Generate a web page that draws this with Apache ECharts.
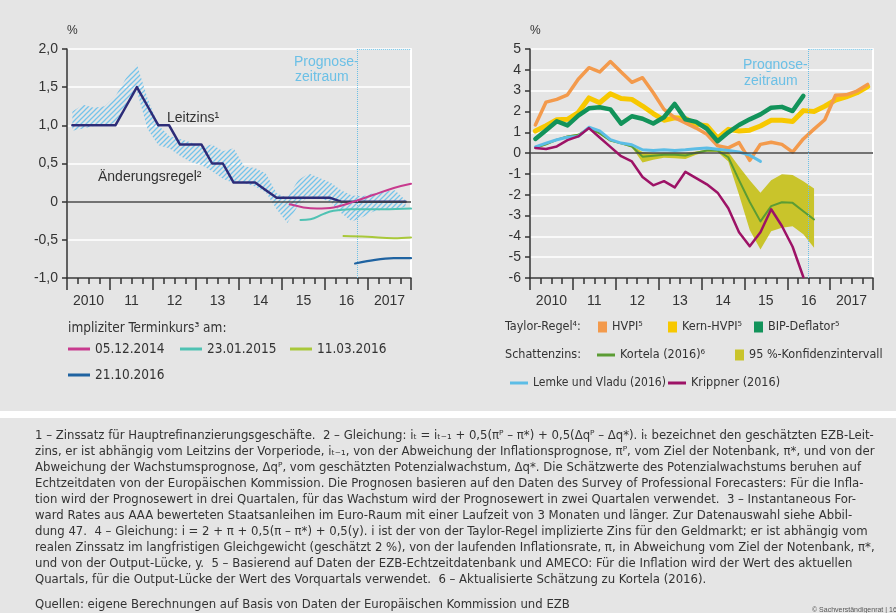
<!DOCTYPE html>
<html><head><meta charset="utf-8">
<script src="https://cdn.jsdelivr.net/npm/echarts/dist/echarts.min.js"></script>
<style>html,body{margin:0;padding:0;background:#fff}#c{width:896px;height:613px}</style>
</head><body><div id="c"></div><script>
// ---------- data ----------
const years = [2010, 2011, 2012, 2013, 2014, 2015, 2016, 2017];
const yearLabels = ['2010', '11', '12', '13', '14', '15', '16', '2017'];
const leftTicks = [-1, -0.5, 0, 0.5, 1, 1.5, 2];
const rightTicks = [-6, -5, -4, -3, -2, -1, 0, 1, 2, 3, 4, 5];

// left panel (quarterly, 2010Q1 ...)
const leitzins = [1,1,1,1, 1,1.25,1.5,1.25, 1,1,0.75,0.75, 0.75,0.5,0.5,0.25, 0.25,0.25,0.15,0.05, 0.05,0.05,0.05,0.05, 0.05,0,0,0, 0,0,0,0];
const regelUpper = [1.18,1.27,1.23,1.25, 1.38,1.62,1.8,1.35, 1.0,0.86,0.82,0.78, 0.72,0.75,0.66,0.7, 0.46,0.44,0.37,0.11, 0.05,0.28,0.37,0.31, 0.25,0.15,0.08,0.07, 0.11,0.13,0.15,0.02];
const regelLower = [0.93,0.96,0.99,1.0, 1.03,1.25,1.45,0.95, 0.74,0.7,0.6,0.52, 0.48,0.4,0.3,0.24, 0.24,0.2,0.12,-0.1, -0.28,-0.05,0.07,0.04, 0.0,-0.15,-0.26,-0.2, -0.13,-0.1,-0.09,-0.07];
// implied forward curves [date (decimal year), value]
const fwd20141205 = [[2015.18,-0.035],[2015.5,-0.075],[2015.81,-0.09],[2016.2,-0.075],[2016.67,0],[2017.13,0.09],[2017.6,0.18],[2018,0.235]];
const fwd20150123 = [[2015.43,-0.24],[2015.66,-0.23],[2015.97,-0.16],[2016.2,-0.12],[2016.59,-0.1],[2017.36,-0.1],[2018,-0.09]];
const fwd20160311 = [[2016.43,-0.45],[2016.98,-0.46],[2017.6,-0.48],[2018,-0.47]];
const fwd20161021 = [[2016.7,-0.81],[2016.98,-0.78],[2017.6,-0.74],[2018,-0.74]];
const prognoseLeft = 2016.74;

// right panel (quarterly, 2010Q1 ...)
const hvpi = [1.35,2.45,2.58,2.8, 3.55,4.1,3.9,4.4, 3.9,3.4,3.62,2.9, 2.1,1.7,1.45,1.2, 0.9,0.35,0.25,0.5, -0.35,0.42,0.52,0.42, 0.05,0.68,1.15,1.6, 2.78,2.8,2.98,3.3];
const kernHvpi = [1.06,1.32,1.6,1.62, 1.95,2.65,2.42,2.85, 2.62,2.58,2.26,1.9, 1.58,1.7,1.66,1.38, 1.32,0.72,1.14,1.06, 1.1,1.3,1.58,1.58, 1.52,2.04,2.0,2.25, 2.55,2.7,2.9,3.2];
const bipDeflator = [0.68,1.1,1.53,1.33, 1.8,2.15,2.2,2.1, 1.42,1.77,1.65,1.42, 1.72,2.36,1.62,1.5, 1.17,0.57,1.0,1.35, 1.62,1.86,2.18,2.22, 2.02,2.75];
const kortela = [0.25,0.42,0.64,0.8, 0.88,1.2,0.95,0.6, 0.47,0.32,-0.17,-0.13, -0.08,-0.08,-0.12,0.02, 0.12,0.12,-0.2,-1.3, -2.35,-3.28,-2.55,-2.36, -2.39,-2.79,-3.19];
const kortelaUpper = [0.29,0.46,0.68,0.84, 0.92,1.24,0.99,0.64, 0.51,0.36,0.05,0.0, 0.02,0.02,0.0,0.08, 0.16,0.2,0.05,-0.65, -1.3,-1.9,-1.3,-1.02, -1.05,-1.35,-1.7];
const kortelaLower = [0.21,0.38,0.6,0.76, 0.84,1.16,0.91,0.56, 0.43,0.28,-0.45,-0.32, -0.22,-0.25,-0.28,-0.08, 0.06,0.05,-0.4,-2.0, -3.7,-4.63,-3.75,-3.59, -3.51,-3.9,-4.55];
const lemkeVladu = [0.3,0.48,0.64,0.76, 0.8,1.24,1.07,0.65, 0.48,0.4,0.16,0.13, 0.16,0.13,0.16,0.21, 0.24,0.19,0.12,0.05, -0.1,-0.4];
const krippner = [0.25,0.2,0.32,0.62, 0.8,1.2,0.75,0.3, -0.15,-0.4,-1.15,-1.55, -1.35,-1.65,-0.9,-1.2, -1.5,-1.9,-2.65,-3.8, -4.47,-3.8,-2.7,-3.5, -4.5,-5.95];
const prognoseRight = 2016.5;

// ---------- helpers ----------
const quarterX = [];
years.forEach(y => { for (let q = 1; q <= 4; q++) quarterX.push(y + (q - 0.5) / 4); });
const pairs = arr => arr.map((v, i) => [quarterX[i], v]);

const F = '"Liberation Sans", Arial, sans-serif';
const FN = '"Liberation Sans Narrow", "Arial Narrow", "DejaVu Sans Condensed", sans-serif';
const TXT = '#333';

function hatch() {
  const c = document.createElement('canvas'); c.width = 5; c.height = 5;
  const g = c.getContext('2d');
  g.strokeStyle = '#74c3ea'; g.lineWidth = 1.25;
  g.beginPath();
  g.moveTo(0, 5); g.lineTo(5, 0);
  g.moveTo(-1, 1); g.lineTo(1, -1);
  g.moveTo(4, 6); g.lineTo(6, 4);
  g.stroke();
  return c;
}

function xAxes(gi) {
  return [
    { gridIndex: gi, type: 'value', min: 2010, max: 2018, interval: 1,
      axisLine: { show: true, onZero: false, lineStyle: { color: '#333', width: 1.5 } },
      axisTick: { show: true, length: 12, lineStyle: { color: '#333', width: 1.5 } },
      minorTick: { show: true, splitNumber: 4, length: 6, lineStyle: { color: '#333', width: 1.5 } },
      axisLabel: { show: false }, splitLine: { show: false }, minorSplitLine: { show: false } },
    { gridIndex: gi, type: 'category', data: yearLabels, boundaryGap: true, position: 'bottom',
      axisLine: { show: false, onZero: false }, axisTick: { show: false }, splitLine: { show: false },
      axisLabel: { show: true, interval: 0, margin: 16, color: TXT, fontFamily: F, fontSize: 14 } }
  ];
}
function yAxes(gi, ticks, fmt) {
  const min = ticks[0], max = ticks[ticks.length - 1], interval = ticks[1] - ticks[0];
  return [
    { gridIndex: gi, type: 'value', min, max, interval,
      name: '%', nameLocation: 'end', nameGap: 12,
      nameTextStyle: { color: TXT, fontFamily: F, fontSize: 12, align: 'left', padding: [0, 0, 0, 0] },
      axisLine: { show: true, onZero: false, lineStyle: { color: '#333', width: 1.5 } },
      axisTick: { show: true, length: 5, lineStyle: { color: '#333', width: 1.5 } },
      axisLabel: { margin: 9, color: TXT, fontFamily: F, fontSize: 14, formatter: fmt },
      splitLine: { show: true, lineStyle: { color: '#ffffff', width: 1.5 } } },
    { gridIndex: gi, type: 'value', min, max, interval, position: 'right',
      axisLine: { show: true, onZero: false, lineStyle: { color: '#ffffff', width: 2 } },
      axisTick: { show: false }, axisLabel: { show: false }, splitLine: { show: false } }
  ];
}
function line(name, data, color, width, xi, yi, extra) {
  return Object.assign({ type: 'line', name, data, xAxisIndex: xi, yAxisIndex: yi,
    symbol: 'none', showSymbol: false, silent: true, z: 3,
    lineStyle: { color, width, cap: 'round', join: 'round' }, itemStyle: { color } }, extra || {});
}
function band(name, lower, upper, fill, legendColor, xi, yi, z) {
  const xs = quarterX.slice(0, lower.length);
  return { type: 'custom', name, xAxisIndex: xi, yAxisIndex: yi, z, silent: true, clip: true,
    itemStyle: { color: legendColor },
    data: xs.map((x, i) => [x, lower[i], upper[i]]),
    encode: { x: 0, y: [1, 2] },
    renderItem(params, api) {
      if (params.dataIndex !== 0) return null;
      const pts = [];
      for (let i = 0; i < xs.length; i++) pts.push(api.coord([xs[i], upper[i]]));
      for (let i = xs.length - 1; i >= 0; i--) pts.push(api.coord([xs[i], lower[i]]));
      return { type: 'polygon', shape: { points: pts }, style: { fill } };
    } };
}
function lg(name, left, top, w, h, fs) {
  return { data: [name], left, top, itemWidth: w, itemHeight: h, icon: 'rect', itemGap: 0, padding: 0,
    selectedMode: false, textStyle: { fontFamily: FN, fontSize: fs, color: TXT, lineHeight: 16 } };
}
const zeroLine = { silent: true, symbol: 'none', animation: false, label: { show: false },
  lineStyle: { color: '#444', width: 1.5, type: 'solid' }, data: [{ yAxis: 0 }] };
function progLine(x, top, bottom) {
  return { silent: true, symbol: 'none', animation: false, label: { show: false },
    lineStyle: { color: '#6cc0e6', width: 1, type: 'dotted' },
    data: [[{ coord: [x, top] }, { coord: [x, bottom] }], [{ coord: [x, top] }, { coord: [2018, top] }]] };
}

const C = { hvpi: '#f39a4c', kern: '#f7c800', bip: '#12935a', kortela: '#5b9c34', ki: '#c9c42b',
  lemke: '#5cbde6', krippner: '#9d1266', leit: '#2d2c78',
  f1: '#c83a8e', f2: '#4fc2b3', f3: '#a9c83a', f4: '#1f63a1' };

const footLines = [
  '1 – Zinssatz für Hauptrefinanzierungsgeschäfte.  2 – Gleichung: iₜ = iₜ₋₁ + 0,5(πᴾ – π*) + 0,5(Δqᴾ – Δq*). iₜ bezeichnet den geschätzten EZB-Leit-',
  'zins, er ist abhängig vom Leitzins der Vorperiode, iₜ₋₁, von der Abweichung der Inflationsprognose, πᴾ, vom Ziel der Notenbank, π*, und von der',
  'Abweichung der Wachstumsprognose, Δqᴾ, vom geschätzten Potenzialwachstum, Δq*. Die Schätzwerte des Potenzialwachstums beruhen auf',
  'Echtzeitdaten von der Europäischen Kommission. Die Prognosen basieren auf den Daten des Survey of Professional Forecasters: Für die Infla-',
  'tion wird der Prognosewert in drei Quartalen, für das Wachstum wird der Prognosewert in zwei Quartalen verwendet.  3 – Instantaneous For-',
  'ward Rates aus AAA bewerteten Staatsanleihen im Euro-Raum mit einer Laufzeit von 3 Monaten und länger. Zur Datenauswahl siehe Abbil-',
  'dung 47.  4 – Gleichung: i = 2 + π + 0,5(π – π*) + 0,5(y). i ist der von der Taylor-Regel implizierte Zins für den Geldmarkt; er ist abhängig vom',
  'realen Zinssatz im langfristigen Gleichgewicht (geschätzt 2 %), von der laufenden Inflationsrate, π, in Abweichung vom Ziel der Notenbank, π*,',
  'und von der Output-Lücke, y.  5 – Basierend auf Daten der EZB-Echtzeitdatenbank und AMECO: Für die Inflation wird der Wert des aktuellen',
  'Quartals, für die Output-Lücke der Wert des Vorquartals verwendet.  6 – Aktualisierte Schätzung zu Kortela (2016).'
];
const sourceLine = 'Quellen: eigene Berechnungen auf Basis von Daten der Europäischen Kommission und EZB';

function txt(text, x, y, opts) {
  return Object.assign({ type: 'text', x, y, silent: true,
    style: Object.assign({ text, fill: TXT, font: '14px ' + F, textVerticalAlign: 'middle', textAlign: 'left' }, opts || {}) });
}

const chart = echarts.init(document.getElementById('c'), null, { renderer: 'canvas' });
chart.setOption({
  animation: false,
  backgroundColor: '#e5e5e5',
  grid: [
    { left: 67, top: 49, width: 344, height: 229, outerBoundsMode: 'none', containLabel: false },
    { left: 530, top: 49, width: 343, height: 229, outerBoundsMode: 'none', containLabel: false }
  ],
  xAxis: [...xAxes(0), ...xAxes(1)],
  yAxis: [
    ...yAxes(0, leftTicks, v => v === 0 ? '0' : v.toFixed(1).replace('.', ',')),
    ...yAxes(1, rightTicks, v => String(v))
  ],
  legend: [
    lg('05.12.2014', 68, 341, 22, 3, 13.5), lg('23.01.2015', 180, 341, 22, 3, 13.5), lg('11.03.2016', 290, 341, 22, 3, 13.5),
    lg('21.10.2016', 68, 367, 22, 3, 13.5),
    lg('HVPI⁵', 598, 319, 9, 11, 12.5), lg('Kern-HVPI⁵', 668, 319, 9, 11, 12.5), lg('BIP-Deflator⁵', 754, 319, 9, 11, 12.5),
    lg('Kortela (2016)⁶', 597, 347, 18, 3, 12.5), lg('95 %-Konfidenzintervall', 735, 347, 9, 11, 12.5),
    lg('Lemke und Vladu (2016)', 510, 375, 18, 3, 12), lg('Krippner (2016)', 668, 375, 18, 3, 12.5)
  ],
  series: [
    // left
    band('Änderungsregel', regelLower, regelUpper, { image: hatch(), repeat: 'repeat' }, '#74c3ea', 0, 0, 1),
    line('Leitzins', pairs(leitzins), C.leit, 2.5, 0, 0, { z: 4, markLine: zeroLine }),
    line('05.12.2014', fwd20141205, C.f1, 2, 0, 0, { smooth: 0.4, z: 5 }),
    line('23.01.2015', fwd20150123, C.f2, 2, 0, 0, { smooth: 0.4, z: 5 }),
    line('11.03.2016', fwd20160311, C.f3, 2, 0, 0, { smooth: 0.4, z: 5 }),
    line('21.10.2016', fwd20161021, C.f4, 2.2, 0, 0, { smooth: 0.4, z: 5,
      markLine: progLine(prognoseLeft, leftTicks[leftTicks.length - 1], leftTicks[0]) }),
    // right
    band('95 %-Konfidenzintervall', kortelaLower, kortelaUpper, C.ki, C.ki, 2, 2, 1),
    line('Kern-HVPI⁵', pairs(kernHvpi), C.kern, 5, 2, 2, { z: 3, markLine: zeroLine }),
    line('HVPI⁵', pairs(hvpi), C.hvpi, 3.5, 2, 2, { z: 3 }),
    line('BIP-Deflator⁵', pairs(bipDeflator), C.bip, 4.5, 2, 2, { z: 3 }),
    line('Kortela (2016)⁶', pairs(kortela), C.kortela, 2, 2, 2, { z: 4 }),
    line('Lemke und Vladu (2016)', pairs(lemkeVladu), C.lemke, 3, 2, 2, { z: 4 }),
    line('Krippner (2016)', pairs(krippner), C.krippner, 2.5, 2, 2, { z: 5,
      markLine: progLine(prognoseRight, rightTicks[rightTicks.length - 1], rightTicks[0]) })
  ],
  graphic: [
    { type: 'rect', shape: { x: 0, y: 411, width: 896, height: 7 }, style: { fill: '#ffffff' }, silent: true },
    txt('Prognose-', 294, 62, { fill: '#6cc0e6' }),
    txt('zeitraum', 295, 77, { fill: '#6cc0e6' }),
    txt('Prognose-', 743, 65, { fill: '#6cc0e6' }),
    txt('zeitraum', 744, 81, { fill: '#6cc0e6' }),
    txt('Leitzins¹', 167, 118),
    txt('Änderungsregel²', 98, 177),
    txt('impliziter Terminkurs³ am:', 68, 328, { font: '13.5px ' + FN }),
    txt('Taylor-Regel⁴:', 505, 327, { font: '12.5px ' + FN }),
    txt('Schattenzins:', 505, 355, { font: '12.5px ' + FN }),
    txt(footLines.join('\n'), 35, 428, { font: '13px ' + FN, textVerticalAlign: 'top', lineHeight: 16 }),
    txt(sourceLine, 35, 605, { font: '13px ' + FN }),
    txt('© Sachverständigenrat | 16-184', 812, 610, { font: '7px ' + F, fill: '#555' })
  ]
});
</script></body></html>
